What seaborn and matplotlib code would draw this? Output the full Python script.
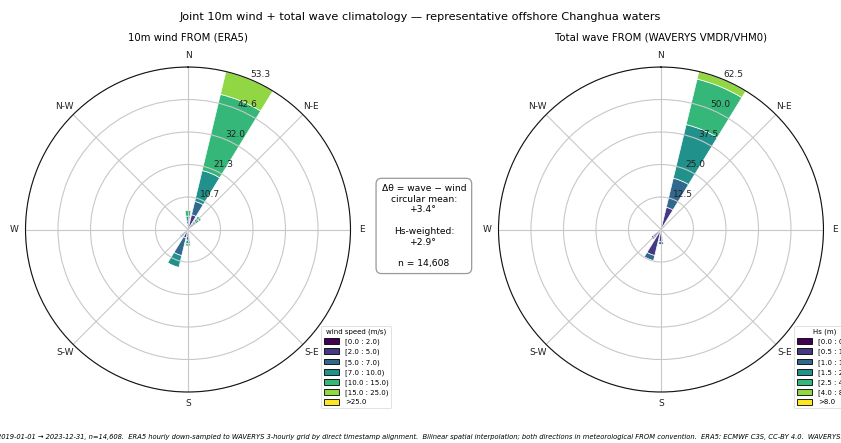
import numpy as np
import matplotlib
matplotlib.use("Agg")
import matplotlib.pyplot as plt
import matplotlib.patches as mpatches
import seaborn as sns

# 16 direction sectors, meteorological FROM, clockwise from N
directions = ["N", "NNE", "NE", "ENE", "E", "ESE", "SE", "SSE",
              "S", "SSW", "SW", "WSW", "W", "WNW", "NW", "NNW"]
compass = ["N", "N-E", "E", "S-E", "S", "S-W", "W", "N-W"]

# wind speed bins (% of records per sector)
wind_labels = ["[0.0 : 2.0)", "[2.0 : 5.0)", "[5.0 : 7.0)", "[7.0 : 10.0)",
               "[10.0 : 15.0)", "[15.0 : 25.0)", ">25.0"]
wind_0_2 = [0.2, 0.5, 0.3, 0.2, 0.15, 0.1, 0.1, 0.15, 0.3, 0.4, 0.3, 0.2, 0.15, 0.1, 0.1, 0.15]
wind_2_5 = [1.6, 4.5, 2.0, 0.6, 0.3, 0.2, 0.2, 0.5, 2.0, 2.4, 1.6, 0.8, 0.35, 0.25, 0.3, 0.6]
wind_5_7 = [1.0, 4.5, 1.0, 0.2, 0.05, 0.0, 0.0, 0.15, 1.2, 6.0, 0.9, 0.4, 0.1, 0.05, 0.1, 0.25]
wind_7_10 = [1.6, 10.4, 1.2, 0.1, 0.0, 0.0, 0.0, 0.0, 1.2, 4.0, 0.6, 0.1, 0.0, 0.0, 0.0, 0.1]
wind_10_15 = [1.9, 25.7, 1.0, 0.0, 0.0, 0.0, 0.0, 0.0, 0.8, 0.2, 0.1, 0.0, 0.0, 0.0, 0.0, 0.0]
wind_15_25 = [0.2, 7.7, 0.0, 0.0, 0.0, 0.0, 0.0, 0.0, 0.0, 0.0, 0.0, 0.0, 0.0, 0.0, 0.0, 0.0]
wind_25_up = [0.0] * 16

# significant wave height bins (% of records per sector)
wave_labels = ["[0.0 : 0.5)", "[0.5 : 1.0)", "[1.0 : 1.5)", "[1.5 : 2.5)",
               "[2.5 : 4.0)", "[4.0 : 8.0)", ">8.0"]
hs_0_05 = [0.1, 0.3, 0.2, 0.1, 0.1, 0.1, 0.1, 0.1, 0.2, 0.3, 0.3, 0.2, 0.1, 0.1, 0.1, 0.1]
hs_05_1 = [0.6, 8.5, 1.6, 0.7, 0.3, 0.2, 0.2, 0.4, 4.5, 10.0, 3.5, 1.1, 0.35, 0.2, 0.2, 0.35]
hs_1_15 = [0.1, 11.5, 0.2, 0.0, 0.0, 0.0, 0.0, 0.0, 1.3, 2.0, 1.0, 0.2, 0.0, 0.0, 0.0, 0.0]
hs_15_25 = [0.0, 21.2, 0.0, 0.0, 0.0, 0.0, 0.0, 0.0, 0.0, 0.2, 0.0, 0.0, 0.0, 0.0, 0.0, 0.0]
hs_25_4 = [0.0, 18.0, 0.0, 0.0, 0.0, 0.0, 0.0, 0.0, 0.0, 0.0, 0.0, 0.0, 0.0, 0.0, 0.0, 0.0]
hs_4_8 = [0.0, 3.0, 0.0, 0.0, 0.0, 0.0, 0.0, 0.0, 0.0, 0.0, 0.0, 0.0, 0.0, 0.0, 0.0, 0.0]
hs_8_up = [0.0] * 16

footer = ("2019-01-01 \u2192 2023-12-31, n=14,608.  ERA5 hourly down-sampled to WAVERYS 3-hourly grid "
          "by direct timestamp alignment.  Bilinear spatial interpolation; both directions in "
          "meteorological FROM convention.  ERA5: ECMWF C3S, CC-BY 4.0.  WAVERYS: Mercator Ocean / CMEMS.")
box_text = ("\u0394\u03b8 = wave \u2212 wind\ncircular mean:\n+3.4\u00b0\n\n"
            "Hs-weighted:\n+2.9\u00b0\n\nn = 14,608")

sns.set_style("white")
plt.rcParams["font.family"] = ["DejaVu Sans"]
plt.rcParams["text.color"] = "black"
colors = sns.color_palette(list(plt.get_cmap("viridis")(np.linspace(0, 1, 7))))


def rose(ax, bins, labels, legend_title):
    theta = np.deg2rad(np.arange(len(directions)) * 22.5)
    width = np.deg2rad(22.5 * 0.8)
    bottom = np.zeros(len(directions))
    for vals, col in zip(bins, colors):
        vals = np.asarray(vals, dtype=float)
        ax.bar(theta, vals, width=width, bottom=bottom, color=col,
               edgecolor="white", linewidth=0.5, zorder=1)
        bottom += vals
    rmax = bottom.max()
    ax.set_axisbelow(False)
    ax.set_theta_zero_location("N")
    ax.set_theta_direction(-1)
    ax.set_ylim(0, rmax)
    radii = np.linspace(0, rmax, 6)[1:]
    ax.set_rgrids(radii, [f"{r:.1f}" for r in radii], angle=22.5, fontsize=6.5, color="#222222")
    ax.set_thetagrids(np.arange(0, 360, 45), compass, fontsize=6.5, color="#222222")
    ax.tick_params(axis="x", pad=-2)
    ax.grid(True, color="#c8c8c8", linewidth=0.8)
    ax.spines["polar"].set_linewidth(0.8)
    ax.spines["polar"].set_color("#111111")
    ax.spines["polar"].set_zorder(4)
    handles = [mpatches.Rectangle((0, 0), 1, 1, facecolor=c, edgecolor="black", linewidth=0.6)
               for c in colors]
    leg = ax.legend(handles, labels, title=legend_title, loc="lower left",
                    bbox_to_anchor=(0.91, -0.05), borderaxespad=0, fontsize=5,
                    title_fontsize=5, handlelength=2.2, handleheight=0.9,
                    labelspacing=0.45, frameon=True)
    leg.get_frame().set_linewidth(0.5)
    leg.set_zorder(5)


fig = plt.figure(figsize=(8.41, 4.43), dpi=100)
ax1 = fig.add_axes([0.0303, 0.1151, 0.3865, 0.7336], projection="polar")
ax2 = fig.add_axes([0.5927, 0.1151, 0.3865, 0.7336], projection="polar")

rose(ax1, [wind_0_2, wind_2_5, wind_5_7, wind_7_10, wind_10_15, wind_15_25, wind_25_up],
     wind_labels, "wind speed (m/s)")
rose(ax2, [hs_0_05, hs_05_1, hs_1_15, hs_15_25, hs_25_4, hs_4_8, hs_8_up],
     wave_labels, "Hs (m)")

fig.text(0.5, 0.962, "Joint 10m wind + total wave climatology \u2014 representative offshore Changhua waters",
         ha="center", va="center", fontsize=8.1)
fig.text(188 / 841, 1 - 38 / 443, "10m wind FROM (ERA5)", ha="center", va="center", fontsize=7.3)
fig.text(661 / 841, 1 - 38 / 443, "Total wave FROM (WAVERYS VMDR/VHM0)", ha="center", va="center", fontsize=7.3)

fig.text(0.504, 0.49, box_text, ha="center", va="center", fontsize=6.6, linespacing=1.25,
         bbox=dict(boxstyle="round,pad=0.6", facecolor="white", edgecolor="#999999", linewidth=0.9))

fig.text(-0.003, 0.0135, footer, ha="left", va="center", fontsize=4.85, style="italic")

fig.savefig("out.png", dpi=100)
